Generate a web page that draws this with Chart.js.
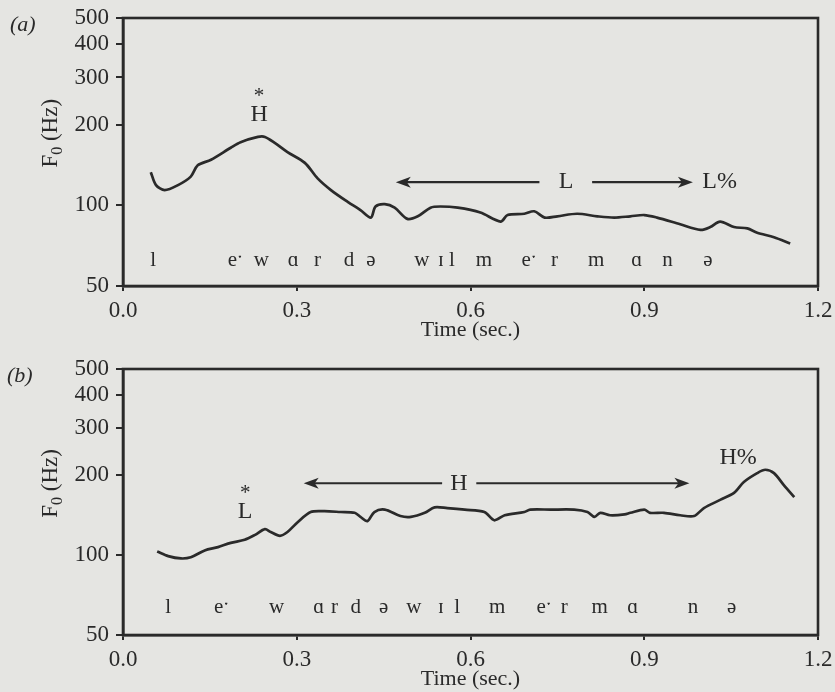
<!DOCTYPE html>
<html>
<head>
<meta charset="utf-8">
<script src="https://cdn.jsdelivr.net/npm/chart.js@4"></script>
<style>
  body { margin: 0; background: #e5e5e2; }
  .panel { position: absolute; left: 0; width: 835px; height: 346px; }
</style>
</head>
<body>
<div class="panel" style="top:0"><canvas id="chartA"></canvas></div>
<div class="panel" style="top:346px"><canvas id="chartB"></canvas></div>
<script>
// tick labels
const xTicks = [0, 0.3, 0.6, 0.9, 1.2];
const yTicks = [50, 100, 200, 300, 400, 500];

// (a) pitch track, time in sec, F0 in Hz
const timeA = [0.048, 0.057, 0.072, 0.095, 0.117, 0.129, 0.152, 0.186, 0.203, 0.233, 0.245, 0.262,
  0.284, 0.314, 0.336, 0.359, 0.388, 0.41, 0.428, 0.436, 0.452, 0.469, 0.491, 0.509, 0.531, 0.548,
  0.578, 0.617, 0.652, 0.664, 0.693, 0.71, 0.728, 0.75, 0.784, 0.819, 0.848, 0.876, 0.9, 0.922,
  0.962, 0.997, 1.014, 1.031, 1.055, 1.078, 1.095, 1.124, 1.152];
const f0A = [133, 119, 114, 119, 128, 141, 148, 164, 172, 180, 180, 171,
  158, 144, 126, 114, 103, 96, 90, 99, 101, 98, 89, 91, 98, 99,
  98, 94, 87, 92, 93, 95, 90, 91, 93, 91, 90, 91, 92, 90,
  85, 81, 83, 87, 83, 82, 79, 76, 72];

// (b) pitch track
const timeB = [0.059, 0.078, 0.1, 0.117, 0.141, 0.164, 0.186, 0.21, 0.228, 0.245, 0.255, 0.271,
  0.284, 0.302, 0.324, 0.348, 0.376, 0.4, 0.41, 0.422, 0.434, 0.452, 0.479, 0.497, 0.521, 0.538,
  0.56, 0.59, 0.624, 0.641, 0.659, 0.693, 0.703, 0.738, 0.779, 0.802, 0.814, 0.824, 0.841, 0.866,
  0.876, 0.9, 0.91, 0.934, 0.962, 0.986, 1.003, 1.031, 1.055, 1.072, 1.095, 1.109, 1.124, 1.141, 1.159];
const f0B = [103, 99, 97, 98, 104, 107, 111, 114, 119, 125, 122, 118,
  122, 133, 145, 146, 145, 144, 139, 134, 145, 148, 140, 139, 144, 151,
  150, 148, 145, 135, 141, 145, 148, 148, 148, 145, 139, 144, 141, 142,
  144, 148, 144, 144, 141, 140, 150, 161, 171, 188, 203, 209, 203, 183, 165];

// segment transcription under each track
const segsA = ['l', 'eˑ', 'w', 'ɑ', 'r', 'd', 'ə', 'w', 'ɪ', 'l', 'm', 'eˑ', 'r', 'm', 'ɑ', 'n', 'ə'];
const segTimeA = [0.052, 0.194, 0.239, 0.294, 0.336, 0.39, 0.428, 0.516, 0.549, 0.568, 0.623, 0.701, 0.745, 0.817, 0.887, 0.94, 1.01];
const segsB = ['l', 'eˑ', 'w', 'ɑ', 'r', 'd', 'ə', 'w', 'ɪ', 'l', 'm', 'eˑ', 'r', 'm', 'ɑ', 'n', 'ə'];
const segTimeB = [0.078, 0.17, 0.265, 0.338, 0.365, 0.402, 0.45, 0.502, 0.549, 0.577, 0.646, 0.727, 0.762, 0.823, 0.88, 0.984, 1.051];

const ink = '#2a2a2a';
const serif = '"Liberation Serif", "DejaVu Serif", serif';

const notes = {
  id: 'notes',
  afterDraw(chart, args, o) {
    const ctx = chart.ctx, a = chart.chartArea;
    const xs = chart.scales.x, ys = chart.scales.y;
    ctx.save();
    ctx.strokeStyle = ink;
    ctx.lineWidth = 2.6;
    ctx.strokeRect(a.left, a.top, a.right - a.left, a.bottom - a.top);
    ctx.fillStyle = ink;
    ctx.textAlign = 'center';
    ctx.textBaseline = 'middle';

    ctx.font = '21px ' + serif;
    const sy = ys.getPixelForValue(o.segF);
    o.segs.forEach((s, i) => ctx.fillText(s, xs.getPixelForValue(o.segT[i]), sy));

    o.tones.forEach(n => {
      const x = xs.getPixelForValue(n.t), y = ys.getPixelForValue(n.f);
      ctx.font = '24px ' + serif;
      ctx.fillText(n.text, x, y);
      if (n.star) {
        ctx.font = '21px ' + serif;
        ctx.fillText('*', x, y - 19);
      }
    });

    // arrow pair around the phrase tone
    const ar = o.arrow;
    const ay = ys.getPixelForValue(ar.f);
    const p = t => xs.getPixelForValue(t);
    ctx.lineWidth = 2.2;
    ctx.beginPath();
    ctx.moveTo(p(ar.left[0]) + 8, ay); ctx.lineTo(p(ar.left[1]), ay);
    ctx.moveTo(p(ar.right[0]), ay); ctx.lineTo(p(ar.right[1]) - 8, ay);
    ctx.stroke();
    const head = (x, dir) => {
      ctx.beginPath();
      ctx.moveTo(x, ay);
      ctx.lineTo(x - dir * 15, ay - 5.5);
      ctx.lineTo(x - dir * 11, ay);
      ctx.lineTo(x - dir * 15, ay + 5.5);
      ctx.closePath();
      ctx.fill();
    };
    head(p(ar.left[0]), -1);
    head(p(ar.right[1]), 1);
    ctx.font = '24px ' + serif;
    ctx.fillText(ar.label, p(ar.labelT), ay);
    ctx.fillText(o.edge.text, p(o.edge.t), ys.getPixelForValue(o.edge.f));

    // panel tag
    ctx.font = 'italic 22px ' + serif;
    ctx.textAlign = 'left';
    ctx.fillText(o.tag, o.tagX, a.top + 7);

    // y title with subscript
    ctx.translate(51, a.top + (a.bottom - a.top) * 0.43);
    ctx.rotate(-Math.PI / 2);
    ctx.font = '23px ' + serif;
    const w1 = ctx.measureText('F').width;
    const w3 = ctx.measureText(' (Hz)').width;
    ctx.font = '16px ' + serif;
    const w2 = ctx.measureText('0').width;
    const x0 = -(w1 + w2 + w3) / 2;
    ctx.font = '23px ' + serif;
    ctx.fillText('F', x0, 0);
    ctx.font = '16px ' + serif;
    ctx.fillText('0', x0 + w1, 7);
    ctx.font = '23px ' + serif;
    ctx.fillText(' (Hz)', x0 + w1 + w2, 0);
    ctx.restore();
  }
};

function makeChart(id, times, f0, extra, topPad, xHeight, titlePad) {
  const font = { family: serif, size: 23 };
  return new Chart(document.getElementById(id), {
    type: 'line',
    data: {
      datasets: [{
        data: times.map((t, i) => ({ x: t, y: f0[i] })),
        borderColor: ink,
        borderWidth: 2.7,
        pointRadius: 0,
        tension: 0.3,
        fill: false
      }]
    },
    options: {
      responsive: true,
      maintainAspectRatio: false,
      animation: false,
      layout: { padding: { top: topPad, right: 17, left: 0, bottom: 0 } },
      plugins: { legend: { display: false }, tooltip: { enabled: false }, notes: extra },
      scales: {
        x: {
          type: 'linear', min: 0, max: 1.2,
          afterBuildTicks: s => { s.ticks = xTicks.map(v => ({ value: v })); },
          ticks: { callback: v => v.toFixed(1), font: font, color: ink, padding: 6, maxRotation: 0, autoSkip: false },
          grid: { drawOnChartArea: false, tickLength: 5, color: ink, lineWidth: 2 },
          border: { color: ink, width: 2.6 },
          title: { display: true, text: 'Time (sec.)', font: { family: serif, size: 22 }, color: ink, padding: { top: 0, bottom: titlePad } },
          afterFit: s => { s.height = xHeight; s.paddingLeft = 0; s.paddingRight = 0; }
        },
        y: {
          type: 'logarithmic', min: 50, max: 500,
          afterBuildTicks: s => { s.ticks = yTicks.map(v => ({ value: v })); },
          ticks: { callback: v => String(v), font: font, color: ink, padding: 7, autoSkip: false },
          grid: { drawOnChartArea: false, tickLength: 7, color: ink, lineWidth: 2 },
          border: { color: ink, width: 2.6 },
          afterFit: s => { s.width = 123; s.paddingTop = 0; s.paddingBottom = 0; }
        }
      }
    },
    plugins: [notes]
  });
}

makeChart('chartA', timeA, f0A, {
  segs: segsA, segT: segTimeA, segF: 62.5,
  tones: [{ t: 0.235, f: 217, text: 'H', star: true }],
  arrow: { f: 122, left: [0.471, 0.719], labelT: 0.765, label: 'L', right: [0.81, 0.984] },
  edge: { t: 1.03, f: 122, text: 'L%' },
  tag: '(a)', tagX: 10
}, 18, 60, 3);

makeChart('chartB', timeB, f0B, {
  segs: segsB, segT: segTimeB, segF: 63.5,
  tones: [{ t: 0.211, f: 145, text: 'L', star: true }],
  arrow: { f: 186, left: [0.312, 0.551], labelT: 0.58, label: 'H', right: [0.61, 0.978] },
  edge: { t: 1.062, f: 233, text: 'H%' },
  tag: '(b)', tagX: 7
}, 23, 57, 0);
</script>
</body>
</html>
